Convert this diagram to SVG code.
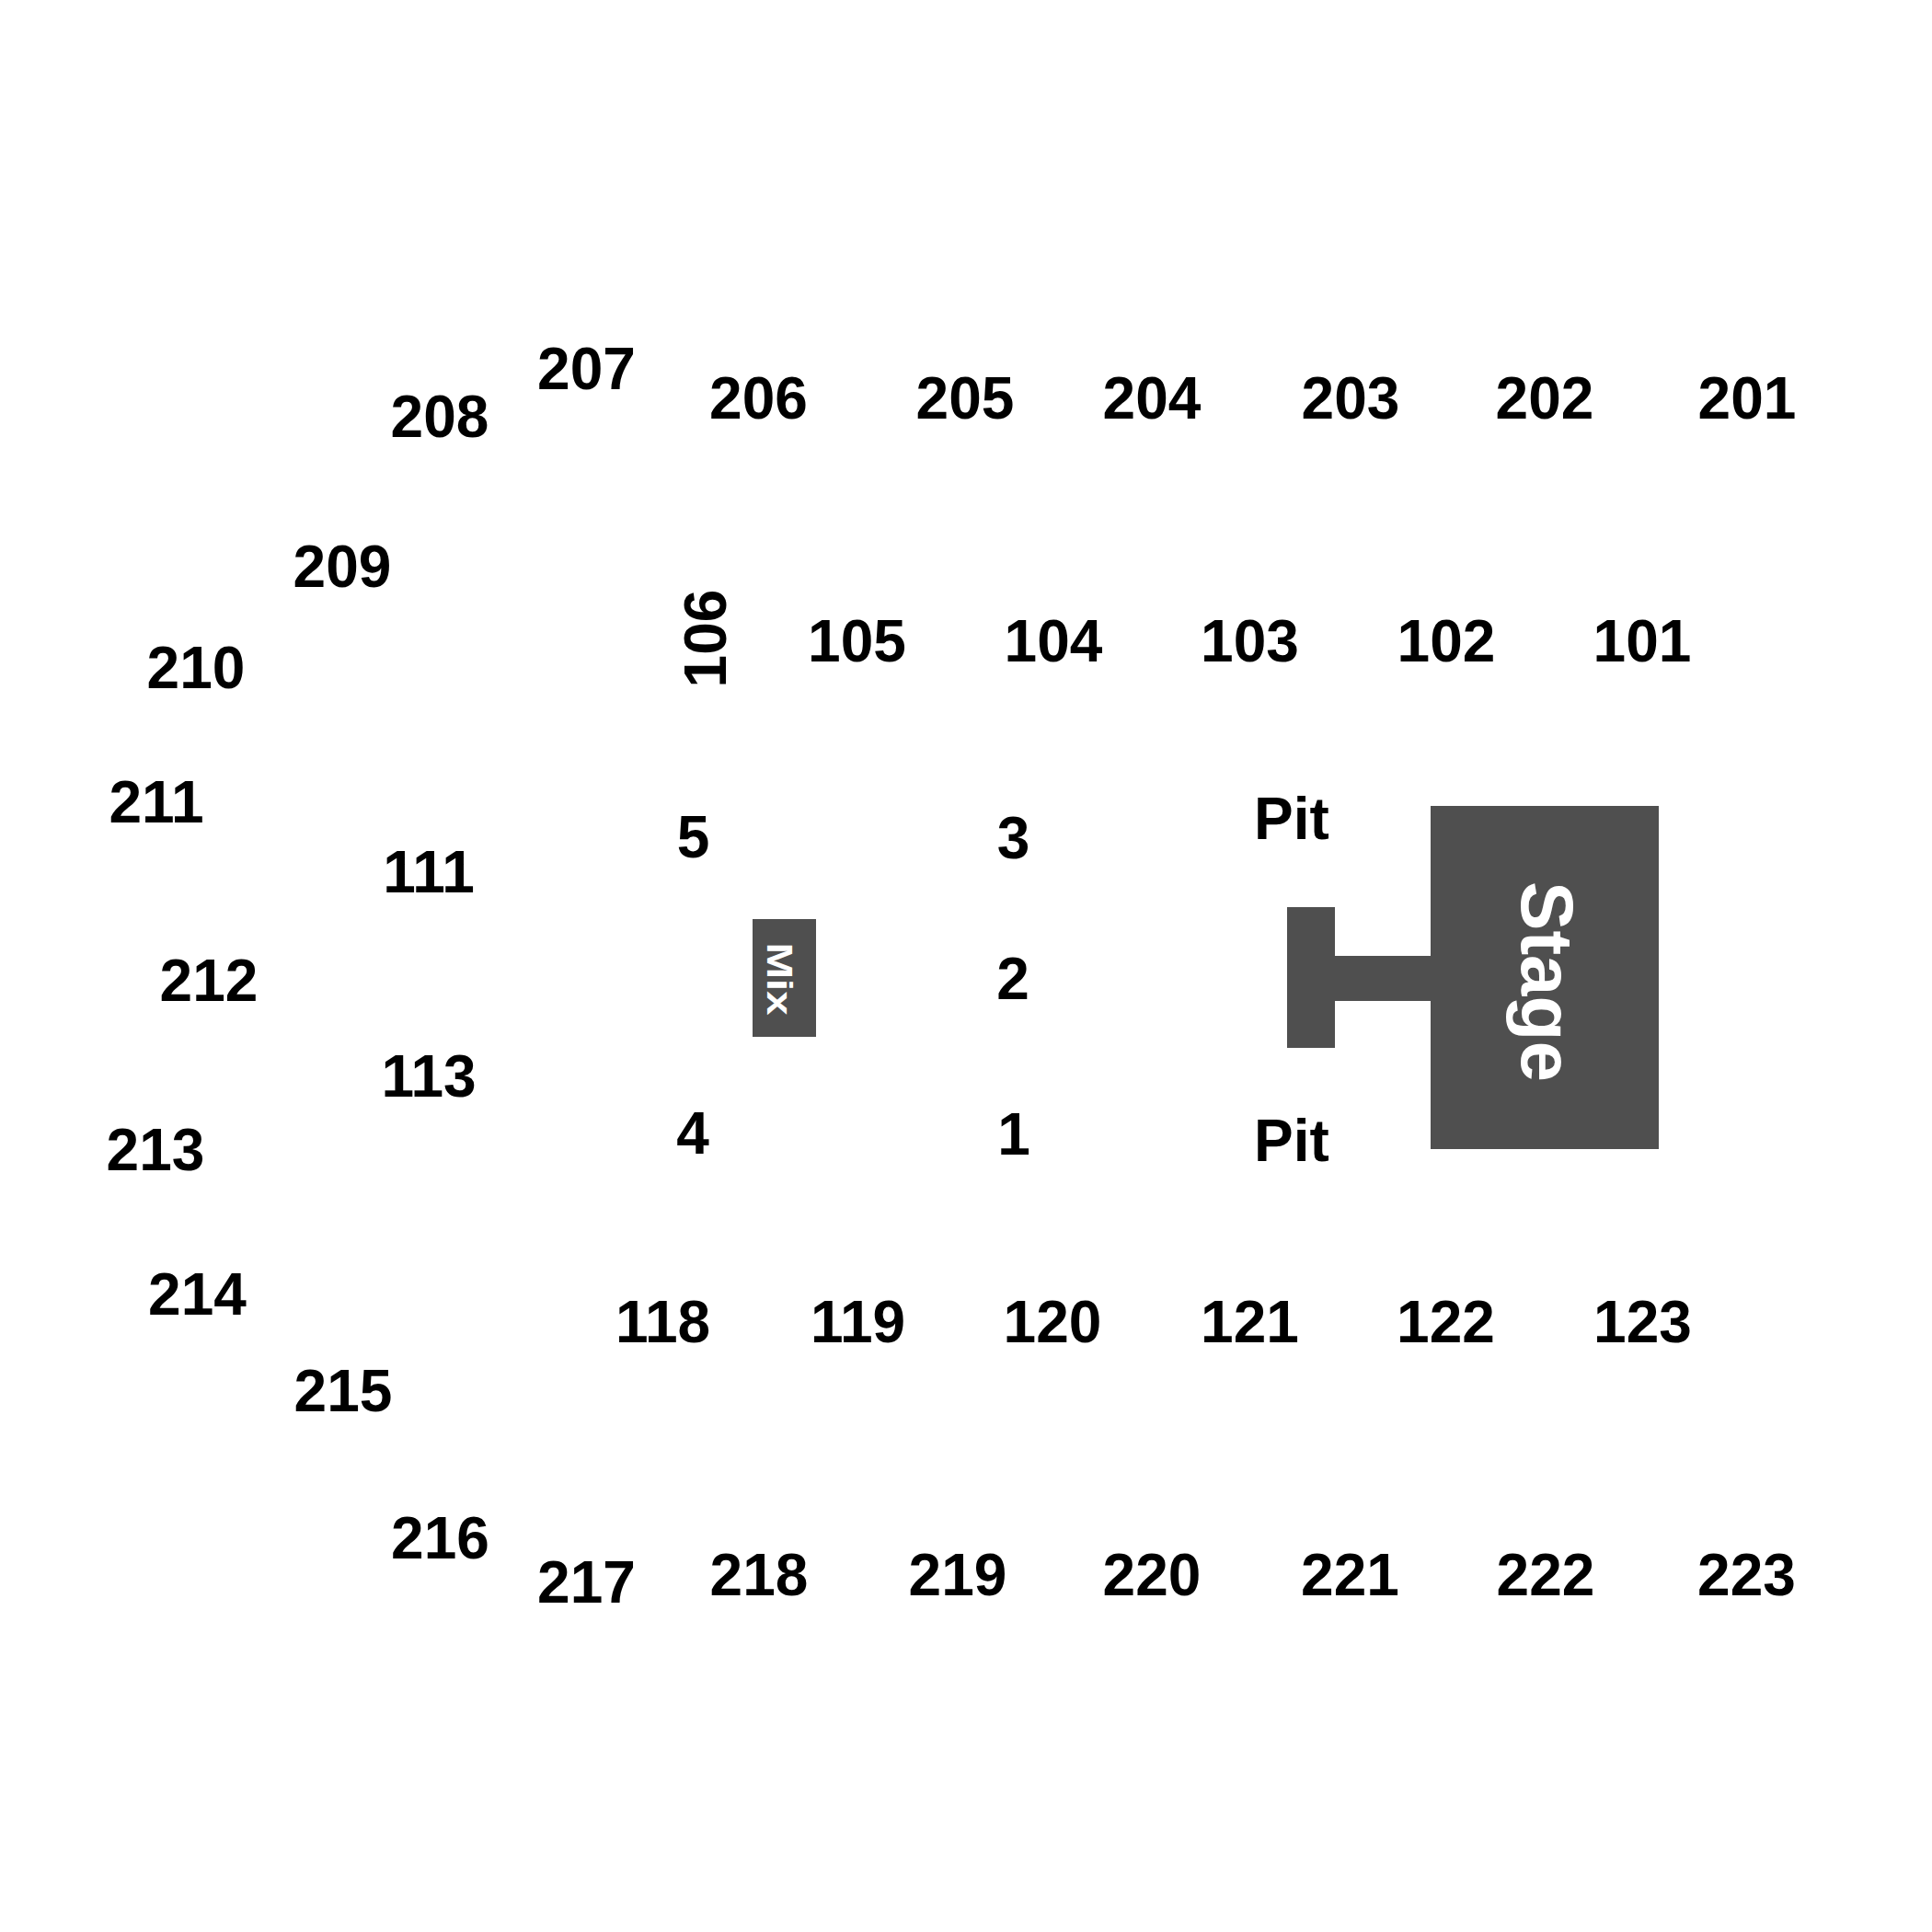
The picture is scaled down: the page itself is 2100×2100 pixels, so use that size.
<svg xmlns="http://www.w3.org/2000/svg" width="2100" height="2100" viewBox="0 0 2100 2100">
<style>
.lbl{font-family:"Liberation Sans",Arial,sans-serif;font-weight:bold;font-size:64px;fill:#000;text-anchor:middle}
.blk{fill:#4f4f4f}
.wt{font-family:"Liberation Sans",Arial,sans-serif;font-weight:bold;fill:#fff;text-anchor:middle}
</style>
<rect x="0" y="0" width="2100" height="2100" fill="#fff"/>
<g id="connectors"></g>
<g id="stage">
<rect class="blk" x="1555" y="876" width="248" height="373"/>
<path class="blk" d="M1399,986 H1451 V1039 H1556 V1088 H1451 V1139 H1399 Z"/>
<text class="wt" font-size="80" transform="translate(1654,1067) rotate(90)">Stage</text>
</g>
<g id="mix">
<rect class="blk" x="818" y="999" width="69" height="128"/>
<text class="wt" font-size="38" transform="translate(833.5,1064) rotate(90) scale(1.25,1)">Mix</text>
</g>
<g id="pit-top"><text class="lbl" x="1404" y="912">Pit</text></g>
<g id="pit-bottom"><text class="lbl" x="1404" y="1262">Pit</text></g>
<g id="sec-1"><text class="lbl" x="1102" y="1255">1</text></g>
<g id="sec-2"><text class="lbl" x="1101" y="1086">2</text></g>
<g id="sec-3"><text class="lbl" x="1101.5" y="933">3</text></g>
<g id="sec-4"><text class="lbl" x="753" y="1254">4</text></g>
<g id="sec-5"><text class="lbl" x="753.5" y="932">5</text></g>
<g id="sec-101"><text class="lbl" x="1785" y="718.5">101</text></g>
<g id="sec-102"><text class="lbl" x="1572" y="718.5">102</text></g>
<g id="sec-103"><text class="lbl" x="1358.5" y="718.5">103</text></g>
<g id="sec-104"><text class="lbl" x="1145" y="718.5">104</text></g>
<g id="sec-105"><text class="lbl" x="931.5" y="718.5">105</text></g>
<g id="sec-106"><text class="lbl" transform="translate(789.3,694) rotate(-90)">106</text></g>
<g id="sec-111"><text class="lbl" x="466" y="969.5">111</text></g>
<g id="sec-113"><text class="lbl" x="466" y="1191.5">113</text></g>
<g id="sec-118"><text class="lbl" x="720.5" y="1458.5">118</text></g>
<g id="sec-119"><text class="lbl" x="932.5" y="1458.5">119</text></g>
<g id="sec-120"><text class="lbl" x="1144" y="1458.5">120</text></g>
<g id="sec-121"><text class="lbl" x="1358.5" y="1458.5">121</text></g>
<g id="sec-122"><text class="lbl" x="1571.5" y="1458.5">122</text></g>
<g id="sec-123"><text class="lbl" x="1785.5" y="1458.5">123</text></g>
<g id="sec-201"><text class="lbl" x="1899" y="454.5">201</text></g>
<g id="sec-202"><text class="lbl" x="1679" y="454.5">202</text></g>
<g id="sec-203"><text class="lbl" x="1468" y="454.5">203</text></g>
<g id="sec-204"><text class="lbl" x="1252" y="454.5">204</text></g>
<g id="sec-205"><text class="lbl" x="1049" y="454.5">205</text></g>
<g id="sec-206"><text class="lbl" x="824.5" y="454.5">206</text></g>
<g id="sec-207"><text class="lbl" x="637.5" y="422.5">207</text></g>
<g id="sec-208"><text class="lbl" x="478" y="475">208</text></g>
<g id="sec-209"><text class="lbl" x="372" y="637.5">209</text></g>
<g id="sec-210"><text class="lbl" x="213" y="748">210</text></g>
<g id="sec-211"><text class="lbl" x="170" y="894">211</text></g>
<g id="sec-212"><text class="lbl" x="227" y="1088">212</text></g>
<g id="sec-213"><text class="lbl" x="169" y="1272">213</text></g>
<g id="sec-214"><text class="lbl" x="214.5" y="1429">214</text></g>
<g id="sec-215"><text class="lbl" x="373" y="1533.5">215</text></g>
<g id="sec-216"><text class="lbl" x="478.5" y="1694">216</text></g>
<g id="sec-217"><text class="lbl" x="637.5" y="1741.5">217</text></g>
<g id="sec-218"><text class="lbl" x="825" y="1733.5">218</text></g>
<g id="sec-219"><text class="lbl" x="1041" y="1733.5">219</text></g>
<g id="sec-220"><text class="lbl" x="1252" y="1733.5">220</text></g>
<g id="sec-221"><text class="lbl" x="1467.5" y="1733.5">221</text></g>
<g id="sec-222"><text class="lbl" x="1680" y="1733.5">222</text></g>
<g id="sec-223"><text class="lbl" x="1898.5" y="1733.5">223</text></g>
</svg>
